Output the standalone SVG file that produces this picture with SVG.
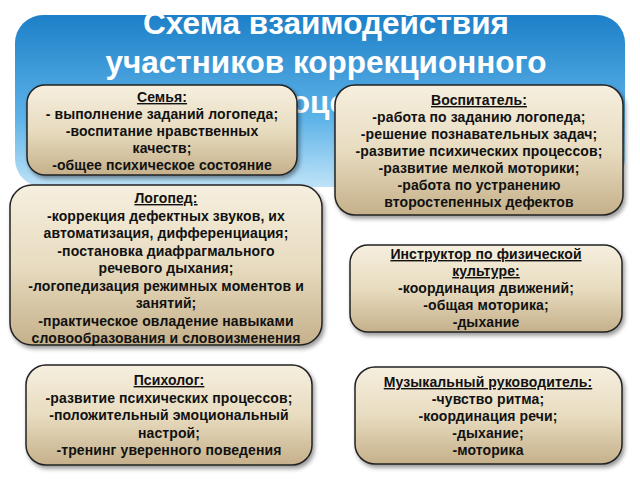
<svg xmlns="http://www.w3.org/2000/svg" width="640" height="480" viewBox="0 0 640 480">
<defs>
<linearGradient id="bg" x1="0" y1="0" x2="0" y2="1"><stop offset="0" stop-color="#1d80c8"/><stop offset="0.6" stop-color="#5db3e8"/><stop offset="1" stop-color="#bfe3f8"/></linearGradient>
<linearGradient id="bx" x1="0" y1="0" x2="0" y2="1"><stop offset="0" stop-color="#f6efdf"/><stop offset="0.5" stop-color="#e8dcc0"/><stop offset="1" stop-color="#c5b08a"/></linearGradient>
<filter id="sh" x="-10%" y="-10%" width="120%" height="130%"><feDropShadow dx="2" dy="3" stdDeviation="2" flood-color="#000" flood-opacity="0.4"/></filter>
</defs>
<style>
.b{fill:url(#bx);stroke:#222;stroke-width:1.5;filter:url(#sh)}
.t{font-family:"Liberation Sans",Arial,sans-serif;font-weight:bold;font-size:14px;letter-spacing:0.1px;fill:#111;text-anchor:middle}
.h{text-decoration:underline}
.ti{font-family:"Liberation Sans",Arial,sans-serif;font-weight:bold;font-size:31.5px;fill:#fff;text-anchor:middle}
</style>
<rect width="640" height="480" fill="#fff"/>
<rect x="15" y="15" width="610" height="172" rx="28" fill="url(#bg)"/>
<text class="ti" x="326" y="34">Схема взаимодействия</text>
<text class="ti" x="326" y="73">участников коррекционного</text>
<text class="ti" x="326" y="113">процесса</text>
<g id="semya"><rect class="b" x="27" y="85" width="270" height="90" rx="18"/>
<text class="t" x="162" y="102"><tspan class="h">Семья:</tspan><tspan x="162" dy="17">- выполнение заданий логопеда;</tspan><tspan x="162" dy="17">-воспитание нравственных</tspan><tspan x="162" dy="17">качеств;</tspan><tspan x="162" dy="17">-общее психическое состояние</tspan></text></g>
<g id="vospitatel"><rect class="b" x="335" y="85" width="288" height="130" rx="20"/>
<text class="t" x="479" y="105"><tspan class="h">Воспитатель:</tspan><tspan x="479" dy="17">-работа по заданию логопеда;</tspan><tspan x="479" dy="17">-решение познавательных задач;</tspan><tspan x="479" dy="17">-развитие психических процессов;</tspan><tspan x="479" dy="17">-развитие мелкой моторики;</tspan><tspan x="479" dy="17">-работа по устранению</tspan><tspan x="479" dy="17">второстепенных дефектов</tspan></text></g>
<g id="logoped"><rect class="b" x="10" y="185" width="312" height="160" rx="22"/>
<text class="t" x="166" y="203"><tspan class="h">Логопед:</tspan><tspan x="166" dy="17.5">-коррекция дефектных звуков, их</tspan><tspan x="166" dy="17.5">автоматизация, дифференциация;</tspan><tspan x="166" dy="17.5">-постановка диафрагмального</tspan><tspan x="166" dy="17.5">речевого дыхания;</tspan><tspan x="166" dy="17.5">-логопедизация режимных моментов и</tspan><tspan x="166" dy="17.5">занятий;</tspan><tspan x="166" dy="17.5">-практическое овладение навыками</tspan><tspan x="166" dy="17.5">словообразования и словоизменения</tspan></text></g>
<g id="instruktor"><rect class="b" x="350" y="245" width="272" height="87" rx="18"/>
<text class="t" x="486" y="259"><tspan class="h">Инструктор по физической</tspan><tspan x="486" dy="17" class="h">культуре:</tspan><tspan x="486" dy="17">-координация движений;</tspan><tspan x="486" dy="17">-общая моторика;</tspan><tspan x="486" dy="17">-дыхание</tspan></text></g>
<g id="psiholog"><rect class="b" x="26" y="365" width="286" height="100" rx="20"/>
<text class="t" x="169" y="385"><tspan class="h">Психолог:</tspan><tspan x="169" dy="17.5">-развитие психических процессов;</tspan><tspan x="169" dy="17.5">-положительный эмоциональный</tspan><tspan x="169" dy="17.5">настрой;</tspan><tspan x="169" dy="17.5">-тренинг уверенного поведения</tspan></text></g>
<g id="muz"><rect class="b" x="355" y="367" width="267" height="97" rx="20"/>
<text class="t" x="488" y="387"><tspan class="h">Музыкальный руководитель:</tspan><tspan x="488" dy="17">-чувство ритма;</tspan><tspan x="488" dy="17">-координация речи;</tspan><tspan x="488" dy="17">-дыхание;</tspan><tspan x="488" dy="17">-моторика</tspan></text></g>
<g id="connectors"/>
</svg>
